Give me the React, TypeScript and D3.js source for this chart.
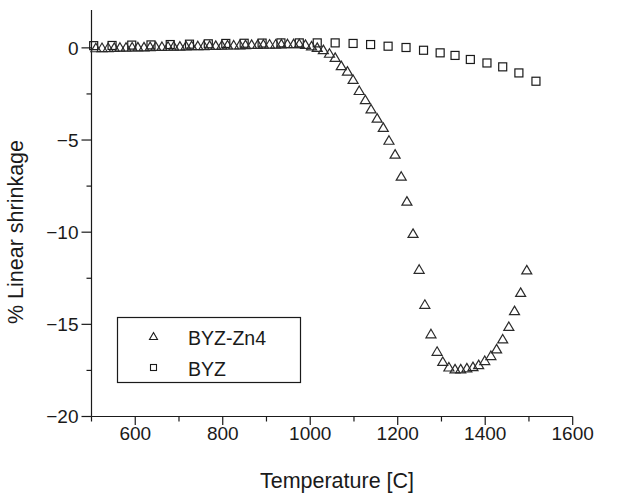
import React from "react";
import * as d3 from "d3";

// BYZ-Zn4 (triangles)
const znTemps = [510, 524, 538, 552, 565, 579, 593, 606, 620, 634, 647, 661, 675, 688, 702, 716, 729, 743, 757, 770, 784, 798, 811, 825, 839, 852, 866, 880, 893, 907, 921, 934, 948, 962, 975, 989, 1003, 1016, 1030, 1044, 1057, 1071, 1085, 1098, 1112, 1126, 1139, 1153, 1167, 1180, 1194, 1208, 1221, 1235, 1249, 1262, 1276, 1290, 1303, 1317, 1331, 1344, 1358, 1372, 1385, 1399, 1413, 1426, 1440, 1454, 1467, 1481, 1495];
const znShrink = [0.02, 0.03, 0.03, 0.04, 0.05, 0.05, 0.06, 0.07, 0.07, 0.08, 0.09, 0.09, 0.1, 0.11, 0.11, 0.12, 0.13, 0.13, 0.14, 0.15, 0.15, 0.16, 0.17, 0.17, 0.18, 0.19, 0.2, 0.2, 0.21, 0.22, 0.22, 0.23, 0.24, 0.24, 0.24, 0.2, 0.12, 0.04, -0.08, -0.28, -0.5, -0.95, -1.25, -1.7, -2.3, -2.8, -3.3, -3.8, -4.3, -5.0, -5.75, -6.95, -8.3, -10.05, -12.0, -13.9, -15.5, -16.45, -17.0, -17.3, -17.4, -17.4, -17.35, -17.28, -17.17, -16.95, -16.68, -16.32, -15.78, -15.1, -14.24, -13.25, -12.03];

// BYZ (squares)
const byzTemps = [505, 547, 592, 636, 680, 724, 767, 807, 849, 890, 933, 975, 1016, 1057, 1098, 1138, 1178, 1219, 1259, 1297, 1331, 1366, 1404, 1440, 1477, 1516];
const byzShrink = [0.12, 0.13, 0.15, 0.16, 0.18, 0.2, 0.22, 0.24, 0.25, 0.26, 0.27, 0.27, 0.27, 0.27, 0.24, 0.18, 0.09, 0.02, -0.13, -0.27, -0.41, -0.63, -0.82, -1.03, -1.36, -1.81];

const xMajor = [600, 800, 1000, 1200, 1400, 1600];
const xMinor = [500, 700, 900, 1100, 1300, 1500];
const yMajor = [0, -5, -10, -15, -20];
const yMinor = [-2.5, -7.5, -12.5, -17.5];

const legendLabels = ["BYZ-Zn4", "BYZ"];

const FONT = "'Liberation Sans', Arial, Helvetica, sans-serif";
const INK = "#1a1a1a";

export default function App() {
  const x = d3.scaleLinear().domain([500, 1600]).range([91.5, 572.7]);
  const y = d3.scaleLinear().domain([-20, 2]).range([416.5, 11]);
  const x0 = x(500);
  const yb = y(-20);

  const tri = (cx: number, cy: number, w: number, h: number) =>
    `M${cx},${cy - h / 2}L${cx + w / 2},${cy + h / 2}L${cx - w / 2},${cy + h / 2}Z`;

  return (
    <svg width={629} height={494} style={{ position: "absolute", left: 0, top: 0, background: "#fff" }}>
      <rect x={0} y={0} width={629} height={494} fill="#fff" />
      {/* axes */}
      <line x1={x0} y1={y(2) - 1} x2={x0} y2={yb} stroke={INK} strokeWidth={1.2} />
      <line x1={x0} y1={yb} x2={x(1600)} y2={yb} stroke={INK} strokeWidth={1.2} />
      {xMajor.map((t) => (
        <g key={"xm" + t}>
          <line x1={x(t)} x2={x(t)} y1={yb} y2={yb + 8.5} stroke={INK} strokeWidth={1.2} />
          <text x={x(t)} y={440} textAnchor="middle" fontFamily={FONT} fontSize={19} fill={INK}>
            {t}
          </text>
        </g>
      ))}
      {xMinor.map((t) => (
        <line key={"xn" + t} x1={x(t)} x2={x(t)} y1={yb} y2={yb + 5} stroke={INK} strokeWidth={1.2} />
      ))}
      {yMajor.map((v) => (
        <g key={"ym" + v}>
          <line x1={x0 - 10} x2={x0} y1={y(v)} y2={y(v)} stroke={INK} strokeWidth={1.2} />
          <text x={78.5} y={y(v)} dy="0.36em" textAnchor="end" fontFamily={FONT} fontSize={19} fill={INK}>
            {v < 0 ? "\u2212" + Math.abs(v) : String(v)}
          </text>
        </g>
      ))}
      {yMinor.map((v) => (
        <line key={"yn" + v} x1={x0 - 5} x2={x0} y1={y(v)} y2={y(v)} stroke={INK} strokeWidth={1.2} />
      ))}
      <text x={337} y={488} textAnchor="middle" fontFamily={FONT} fontSize={21.5} fill={INK}>
        Temperature [C]
      </text>
      <text
        transform={`translate(23,232) rotate(-90)`}
        textAnchor="middle"
        fontFamily={FONT}
        fontSize={21.5}
        fill={INK}
      >
        % Linear shrinkage
      </text>

      {/* BYZ squares */}
      {byzTemps.map((t, i) => (
        <rect
          key={"s" + i}
          x={x(t) - 4}
          y={y(byzShrink[i]) - 4}
          width={8}
          height={8}
          fill="none"
          stroke={INK}
          strokeWidth={1.2}
        />
      ))}
      {/* BYZ-Zn4 triangles */}
      {znTemps.map((t, i) => (
        <path key={"t" + i} d={tri(x(t), y(znShrink[i]), 10, 8.5)} fill="none" stroke="#2a2a2a" strokeWidth={1.2} />
      ))}

      {/* legend */}
      <rect x={117.5} y={317.5} width={183} height={65} fill="#fff" stroke={INK} strokeWidth={1.2} />
      <path d={tri(153.5, 336, 8, 7)} fill="none" stroke={INK} strokeWidth={1.1} />
      <rect x={150.5} y={364.5} width={6} height={6} fill="none" stroke={INK} strokeWidth={1.1} />
      <text x={188} y={345} fontFamily={FONT} fontSize={19.5} fill={INK}>
        {legendLabels[0]}
      </text>
      <text x={188} y={376} fontFamily={FONT} fontSize={19.5} fill={INK}>
        {legendLabels[1]}
      </text>
    </svg>
  );
}
